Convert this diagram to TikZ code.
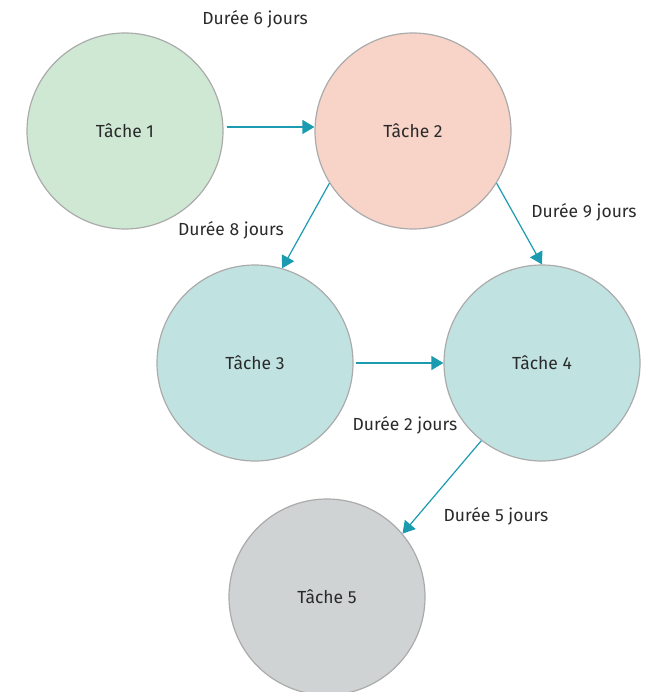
\documentclass[tikz,border=0pt]{standalone}
\usepackage{fontspec}
\setmainfont{Fira Sans}
\usepackage{tikz}
\usetikzlibrary{arrows.meta}
\definecolor{vert}{HTML}{CFE8D4}
\definecolor{rose}{HTML}{F8D3C8}
\definecolor{bleu}{HTML}{C0E3E2}
\definecolor{gris}{HTML}{CFD3D3}
\definecolor{bord}{HTML}{ABABAB}
\definecolor{fleche}{HTML}{1A9BAF}
\definecolor{texte}{HTML}{2A2A2A}
\begin{document}
\begin{tikzpicture}[x=1pt,y=-1pt,
    tache/.style={circle,draw=bord,line width=1.2pt,minimum size=196pt,inner sep=0pt,
      font=\fontsize{17.5}{20}\selectfont,text=texte},
    duree/.style={font=\fontsize{17.5}{20}\selectfont,text=texte,inner sep=1pt},
    lien/.style={draw=fleche,line width=1.2pt,-{Triangle[length=12pt,width=14pt]}}]
    \useasboundingbox (0,0) rectangle (648,692);
    \node[tache,fill=vert] (t1) at (125,131) {Tâche 1};
    \node[tache,fill=rose] (t2) at (413,131) {Tâche 2};
    \node[tache,fill=bleu] (t3) at (255,363) {Tâche 3};
    \node[tache,fill=bleu] (t4) at (542,363) {Tâche 4};
    \node[tache,fill=gris] (t5) at (327,597) {Tâche 5};
    \node[duree] (d6) at (255,19) {Durée 6 jours};
    \node[duree] (d8) at (231,230) {Durée 8 jours};
    \node[duree] (d9) at (584,212) {Durée 9 jours};
    \node[duree] (d2) at (405,425) {Durée 2 jours};
    \node[duree] (d5) at (496,516) {Durée 5 jours};
    \path[lien] ([xshift=3pt,yshift=4pt]t1.east) -- ([yshift=4pt]t2.west);
    \path[lien] (t2.212) -- (t3.74);
    \path[lien] (t2.328) -- (t4.90);
    \path[lien] ([xshift=2pt]t3.east) -- (t4.west);
    \path[lien] (t4.232) -- (t5.40);
\end{tikzpicture}
\end{document}
